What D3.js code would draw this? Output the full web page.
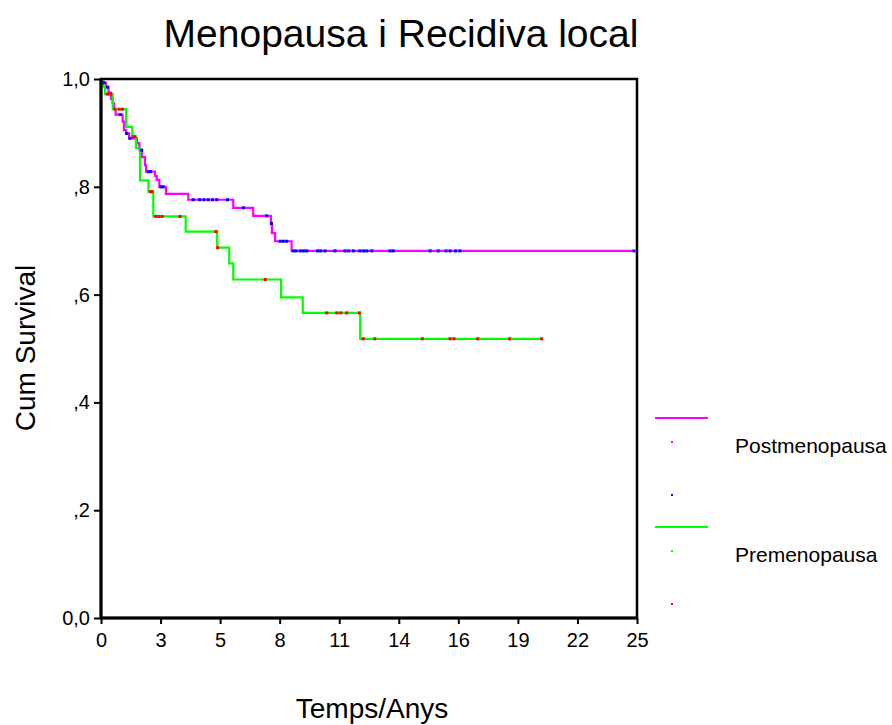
<!DOCTYPE html>
<html>
<head>
<meta charset="utf-8">
<script src="https://cdn.jsdelivr.net/npm/d3@7/dist/d3.min.js"></script>
<style>
  html, body { margin: 0; padding: 0; background: #fff; }
  svg { display: block; font-family: "Liberation Sans", Arial, sans-serif; }
</style>
</head>
<body>
<svg id="chart" width="892" height="725"></svg>
<script>
// ---- Data ----
const chartTitle = "Menopausa i Recidiva local";
const xLabel = "Temps/Anys";
const yLabel = "Cum Survival";
const groups = ["Postmenopausa", "Premenopausa"];

const xTickLabels = ["0", "3", "5", "8", "11", "14", "16", "19", "22", "25"];
const yTickValues = [0, 0.2, 0.4, 0.6, 0.8, 1.0];
const yTickLabels = ["0,0", ",2", ",4", ",6", ",8", "1,0"];

// Postmenopausa: event times and survival after each event
const postEventTimes = [0.09, 0.23, 0.35, 0.47, 0.54, 0.61, 0.68, 1.01, 1.07, 1.17, 1.31, 1.68, 1.79, 1.91, 2.05, 2.10, 2.52, 2.60, 2.72, 3.03, 4.07, 6.17, 7.10, 7.93, 7.97, 8.12, 8.89];
const postEventSurv  = [0.993, 0.985, 0.975, 0.963, 0.955, 0.944, 0.934, 0.921, 0.905, 0.899, 0.890, 0.881, 0.868, 0.855, 0.840, 0.828, 0.820, 0.813, 0.800, 0.787, 0.776, 0.761, 0.746, 0.732, 0.714, 0.699, 0.681];
const postCensorTimes = [0.15, 0.30, 0.90, 1.20, 1.35, 1.90, 2.20, 2.30, 2.80, 2.90, 4.30, 4.60, 4.80, 5.00, 5.20, 5.40, 5.90, 6.64, 7.73, 7.95, 8.35, 8.50, 8.66, 8.97, 9.10, 9.30, 9.45, 9.60, 10.10, 10.25, 10.45, 10.91, 11.38, 11.55, 11.77, 12.08, 12.25, 12.40, 12.63, 13.48, 13.63, 15.35, 15.73, 16.09, 16.28, 16.54, 16.74, 24.86];

// Premenopausa
const preEventTimes = [0.10, 0.19, 0.55, 1.17, 1.46, 1.63, 1.82, 2.21, 2.44, 3.95, 5.42, 5.98, 6.17, 8.40, 9.41, 12.09];
const preEventSurv  = [0.986, 0.972, 0.944, 0.911, 0.893, 0.872, 0.812, 0.791, 0.745, 0.717, 0.687, 0.658, 0.628, 0.595, 0.566, 0.518];
const preCensorTimes = [0.30, 0.45, 0.65, 0.85, 1.00, 1.50, 1.58, 2.30, 2.38, 2.55, 2.70, 2.85, 3.68, 5.36, 5.44, 7.66, 10.53, 11.00, 11.18, 11.46, 12.05, 12.23, 12.77, 14.99, 16.28, 16.46, 17.57, 19.06, 20.55];

const lineColors = ["#ff00ff", "#00ff00"];
const censorColors = ["#0000ff", "#ff0000"];

// ---- Layout ----
const svg = d3.select("#chart");
const pLeft = 101, pRight = 637, pTop = 79, pBottom = 618;

const x = d3.scaleLinear().domain([0, 25]).range([pLeft, pRight]);
const y = d3.scaleLinear().domain([0, 1]).range([pBottom, pTop]);

// Title
svg.append("text")
  .attr("x", 401).attr("y", 47)
  .attr("text-anchor", "middle")
  .attr("font-size", 39)
  .text(chartTitle);

// Curves
function buildSeries(times, surv, censors) {
  const endT = Math.max(d3.max(times), d3.max(censors));
  const pts = [[0, 1]];
  times.forEach((t, i) => pts.push([t, surv[i]]));
  pts.push([endT, surv[surv.length - 1]]);
  const survAt = t => {
    let s = 1;
    for (let i = 0; i < times.length; i++) if (times[i] <= t) s = surv[i];
    return s;
  };
  const marks = censors.map(t => [t, survAt(t)]);
  return { pts, marks };
}

const series = [
  buildSeries(postEventTimes, postEventSurv, postCensorTimes),
  buildSeries(preEventTimes, preEventSurv, preCensorTimes)
];

const line = d3.line()
  .x(d => x(d[0])).y(d => y(d[1]))
  .curve(d3.curveStepAfter);

const plot = svg.append("g");
series.forEach((s, i) => {
  plot.append("path")
    .attr("d", line(s.pts))
    .attr("fill", "none")
    .attr("stroke", lineColors[i])
    .attr("stroke-width", 2.2);
});
series.forEach((s, i) => {
  plot.selectAll(null).data(s.marks).enter().append("rect")
    .attr("x", d => x(d[0]) - 1.5)
    .attr("y", d => y(d[1]) - 1.5)
    .attr("width", 3).attr("height", 3)
    .attr("fill", censorColors[i]);
});

// Frame
svg.append("rect")
  .attr("x", pLeft).attr("y", pTop)
  .attr("width", pRight - pLeft).attr("height", pBottom - pTop)
  .attr("fill", "none").attr("stroke", "#000").attr("stroke-width", 2.5);

// Axes
const xTickVals = xTickLabels.map((_, i) => i * 25 / 9);
const xAxis = d3.axisBottom(x)
  .tickValues(xTickVals)
  .tickFormat((d, i) => xTickLabels[i])
  .tickSize(6).tickPadding(9);
const gx = svg.append("g").attr("transform", `translate(0,${pBottom})`).call(xAxis);
gx.select(".domain").attr("stroke-width", 3).attr("d", `M${pLeft},0H${pRight}`);
gx.selectAll(".tick line").attr("stroke-width", 2);
gx.selectAll("text").attr("font-size", 20).attr("font-family", "Liberation Sans, Arial, sans-serif").attr("fill", "#000");

const yAxis = d3.axisLeft(y)
  .tickValues(yTickValues)
  .tickFormat((d, i) => yTickLabels[i])
  .tickSize(7).tickPadding(4);
const gy = svg.append("g").attr("transform", `translate(${pLeft},0)`).call(yAxis);
gy.select(".domain").attr("stroke-width", 3).attr("d", `M0,${pTop}V${pBottom}`);
gy.selectAll(".tick line").attr("stroke-width", 2);
gy.selectAll("text").attr("font-size", 20).attr("font-family", "Liberation Sans, Arial, sans-serif").attr("fill", "#000");

// Axis labels
svg.append("text")
  .attr("x", 372).attr("y", 718)
  .attr("text-anchor", "middle")
  .attr("font-size", 28)
  .text(xLabel);

svg.append("text")
  .attr("transform", "translate(35,348) rotate(-90)")
  .attr("text-anchor", "middle")
  .attr("font-size", 28)
  .text(yLabel);

// Legend
const legendTop = [418, 527];
const legend = svg.append("g");
groups.forEach((g, i) => {
  const ly = legendTop[i];
  legend.append("line")
    .attr("x1", 655).attr("x2", 708)
    .attr("y1", ly).attr("y2", ly)
    .attr("stroke", lineColors[i]).attr("stroke-width", 2);
  legend.append("rect")
    .attr("x", 671).attr("y", ly + 23).attr("width", 2).attr("height", 2)
    .attr("fill", lineColors[i]);
  legend.append("rect")
    .attr("x", 671).attr("y", ly + 76).attr("width", 2).attr("height", 2)
    .attr("fill", censorColors[i]);
  legend.append("text")
    .attr("x", 735).attr("y", ly + 35)
    .attr("font-size", 21)
    .text(g);
});
</script>
</body>
</html>
